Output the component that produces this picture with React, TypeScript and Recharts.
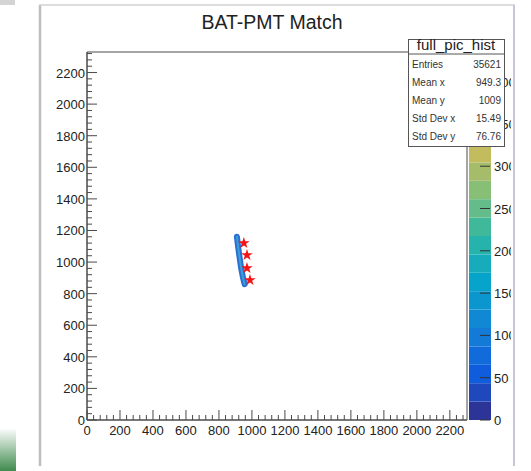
import React from 'react'
import {
  ComposedChart, Line, Scatter, XAxis, YAxis, ZAxis, ReferenceArea,
  BarChart, Bar,
} from 'recharts'

// axes
const xMax = 2304
const yMax = 2330
const xMajor = [0, 200, 400, 600, 800, 1000, 1200, 1400, 1600, 1800, 2000, 2200]
const yMajor = [0, 200, 400, 600, 800, 1000, 1200, 1400, 1600, 1800, 2000, 2200]
const minorStep = 40

// 2D histogram band (full_pic_hist) traced along its ridge
const trackX = [909, 916, 925, 935, 946, 956]
const trackY = [1160, 1100, 1030, 960, 900, 860]

// matched PMT positions (red stars)
const starX = [951, 970, 970, 988]
const starY = [1120, 1044, 962, 886]

// colour scale
const zMax = 435
const zTicks = [0, 50, 100, 150, 200, 250, 300, 350, 400]
const bandColors = [
  '#2d3498', '#1e48bb', '#0f5cdd', '#116bda', '#137ad7',
  '#1188d4', '#0c96cf', '#06a4ca', '#16acbb', '#26b3ac',
  '#40b99b', '#63bc89', '#87bf77', '#a5bd6b', '#c2bc5f',
  '#dabe51', '#ecc342', '#fec832', '#fcdc24', '#faf115',
]

// stats box
const statsTitle = 'full_pic_hist'
const statLabels = ['Entries', 'Mean x', 'Mean y', 'Std Dev x', 'Std Dev y']
const statValues = ['35621', '949.3', '1009', '15.49', '76.76']

const FONT = '"Liberation Sans", Arial, Helvetica, sans-serif'
const AXIS = '#4a4a4a'

const track = trackX.map((x, i) => ({ x, y: trackY[i] }))
const stars = starX.map((x, i) => ({ x, y: starY[i] }))
const xTicks = Array.from({ length: Math.floor(xMax / minorStep) + 1 }, (_, i) => i * minorStep)
const yTicks = Array.from({ length: Math.floor(yMax / minorStep) + 1 }, (_, i) => i * minorStep)
const bandRow: Record<string, number | string> = { name: 'z' }
bandColors.forEach((_, i) => { bandRow['b' + i] = zMax / bandColors.length })

function XTick({ x, y, payload }: any) {
  const major = xMajor.includes(payload.value)
  return (
    <g>
      <line x1={x} y1={y} x2={x} y2={y - (major ? 10 : 5)} stroke={AXIS} />
      {major && (
        <text x={x} y={y + 15} textAnchor="middle" fontSize={13} fill="#222" fontFamily={FONT}>
          {payload.value}
        </text>
      )}
    </g>
  )
}

function YTick({ x, y, payload }: any) {
  const major = yMajor.includes(payload.value)
  return (
    <g>
      <line x1={x} y1={y} x2={x + (major ? 10 : 5)} y2={y} stroke={AXIS} />
      {major && (
        <text x={x - 2} y={y + 5} textAnchor="end" fontSize={13} fill="#222" fontFamily={FONT}>
          {payload.value}
        </text>
      )}
    </g>
  )
}

function ZTick({ x, y, payload }: any) {
  return (
    <g>
      <line x1={x - 1} y1={y} x2={x - 11} y2={y} stroke="#333" />
      <text x={x + 3} y={y + 5} textAnchor="start" fontSize={13} fill="#222" fontFamily={FONT}>
        {payload.value}
      </text>
    </g>
  )
}

export default function App() {
  return (
    <div style={{ position: 'absolute', left: 0, top: 0, width: 531, height: 471, background: '#fff', fontFamily: FONT }}>
      <svg width={531} height={471} style={{ position: 'absolute', left: 0, top: 0 }}>
        <defs>
          <linearGradient id="corner" x1="0" y1="0" x2="0" y2="1">
            <stop offset="0" stopColor="#ffffff" />
            <stop offset="1" stopColor="#3f8a4e" />
          </linearGradient>
        </defs>
        <rect x={0} y={0} width={15} height={5} fill="#d4d4d4" />
        <rect x={0} y={428} width={16} height={43} fill="url(#corner)" />
        <text x={272} y={29} textAnchor="middle" fontSize={19.5} fill="#222" fontFamily={FONT}>BAT-PMT Match</text>
      </svg>

      <div style={{ position: 'absolute', left: 0, top: 0, width: 511, height: 471, overflow: 'hidden' }}>
        <div style={{ position: 'absolute', left: 0, top: 0 }}>
          <ComposedChart width={531} height={471} margin={{ top: 52, right: 64, bottom: 21, left: 40 }}>
            <XAxis
              type="number" dataKey="x" domain={[0, xMax]} ticks={xTicks} interval={0}
              height={30} tickSize={0} tickMargin={0} tickLine={false}
              axisLine={{ stroke: AXIS }} tick={<XTick />} allowDataOverflow
            />
            <YAxis
              type="number" dataKey="y" domain={[0, yMax]} ticks={yTicks} interval={0}
              width={47} tickSize={0} tickMargin={0} tickLine={false}
              axisLine={{ stroke: AXIS }} tick={<YTick />} allowDataOverflow
            />
            <ZAxis range={[42, 42]} />
            <ReferenceArea x1={0} x2={xMax} y1={0} y2={yMax} fill="none" stroke={AXIS} strokeOpacity={1} />
            <Line data={track} dataKey="y" stroke="#2a6fd4" strokeWidth={6} strokeLinecap="round"
              dot={false} activeDot={false} isAnimationActive={false} />
            <Line data={track} dataKey="y" stroke="#3d9fd6" strokeWidth={2} strokeLinecap="round"
              dot={false} activeDot={false} isAnimationActive={false} />
            <Scatter data={stars} dataKey="y" fill="#f41414" shape="star" isAnimationActive={false} />
          </ComposedChart>
        </div>

        <div style={{ position: 'absolute', left: 0, top: 0 }}>
          <BarChart width={531} height={471} data={[bandRow]} barCategoryGap={0}
            margin={{ top: 52, right: 0, bottom: 51, left: 469 }}>
            <XAxis dataKey="name" hide />
            <YAxis orientation="right" type="number" domain={[0, zMax]} ticks={zTicks} interval={0}
              width={40} tickSize={0} tickMargin={0} tickLine={false} axisLine={false} tick={<ZTick />} />
            {bandColors.map((c, i) => (
              <Bar key={i} dataKey={'b' + i} stackId="z" fill={c} isAnimationActive={false} />
            ))}
          </BarChart>
        </div>
      </div>

      <svg width={531} height={471} style={{ position: 'absolute', left: 0, top: 0, pointerEvents: 'none' }}>
        <line x1={40} y1={5} x2={40} y2={466} stroke="#bdbdbd" strokeWidth={2.5} />
        <line x1={39} y1={5} x2={515} y2={5} stroke="#d2d2d2" strokeWidth={1.5} />
        <line x1={514} y1={5} x2={514} y2={466} stroke="#c6c6d8" strokeWidth={2} />
        <rect x={408.5} y={39.5} width={96} height={107} fill="#fff" stroke="#555" />
        <line x1={408.5} y1={54} x2={504.5} y2={54} stroke="#555" />
        <text x={456} y={50} textAnchor="middle" fontSize={15} fill="#222" fontFamily={FONT}>{statsTitle}</text>
        {statLabels.map((l, i) => (
          <g key={l}>
            <text x={412} y={68 + i * 18} fontSize={10} fill="#333" fontFamily={FONT}>{l}</text>
            <text x={501} y={68 + i * 18} textAnchor="end" fontSize={10} fill="#333" fontFamily={FONT}>{statValues[i]}</text>
          </g>
        ))}
      </svg>
    </div>
  )
}
